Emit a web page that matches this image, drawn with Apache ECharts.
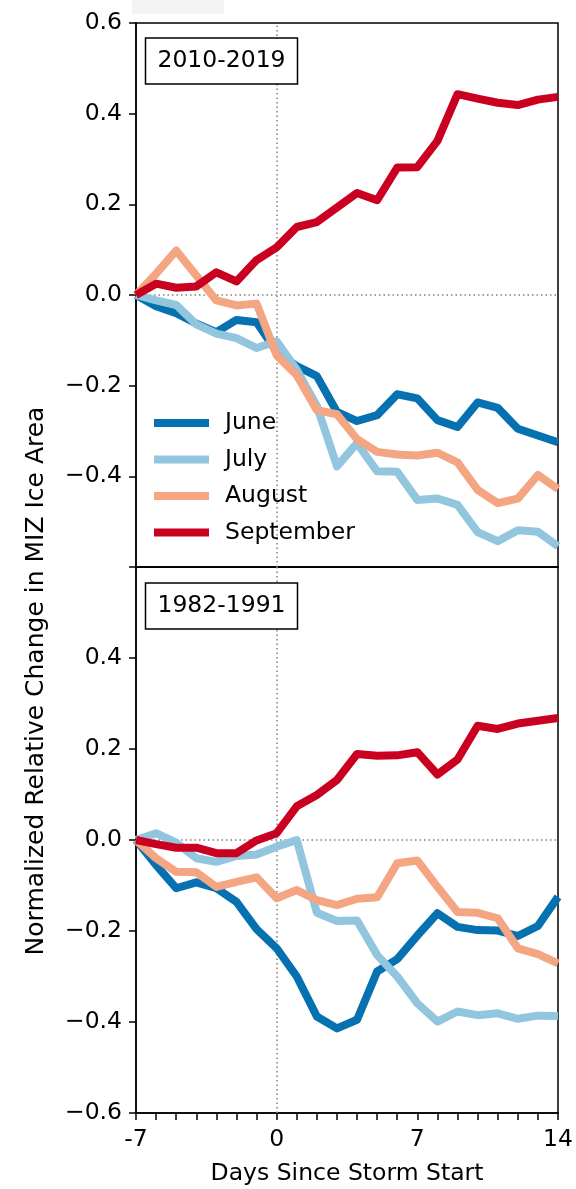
<!DOCTYPE html>
<html>
<head>
<meta charset="utf-8">
<script src="https://cdn.jsdelivr.net/npm/echarts@6/dist/echarts.min.js"></script>
<style>
  html, body { margin: 0; padding: 0; background: #fff; }
  #chart { width: 576px; height: 1189px; }
</style>
</head>
<body>
<div id="chart"></div>
<script>
// Days relative to storm onset
const days = [-7, -6, -5, -4, -3, -2, -1, 0, 1, 2, 3, 4, 5, 6, 7, 8, 9, 10, 11, 12, 13, 14];
const months = ['June', 'July', 'August', 'September'];
const periods = ['2010-2019', '1982-1991'];

// 2010-2019 composites
const june2010 = [0, -0.025, -0.040, -0.063, -0.082, -0.055, -0.060, -0.125, -0.157, -0.179, -0.258, -0.278, -0.265, -0.219, -0.228, -0.276, -0.291, -0.237, -0.249, -0.295, -0.310, -0.325];
const july2010 = [0, -0.012, -0.022, -0.065, -0.085, -0.095, -0.117, -0.102, -0.165, -0.245, -0.378, -0.327, -0.389, -0.390, -0.452, -0.449, -0.463, -0.523, -0.543, -0.519, -0.522, -0.554];
const aug2010 = [0, 0.047, 0.098, 0.043, -0.012, -0.023, -0.019, -0.133, -0.177, -0.254, -0.263, -0.318, -0.346, -0.352, -0.354, -0.348, -0.369, -0.430, -0.459, -0.449, -0.397, -0.428];
const sep2010 = [0, 0.025, 0.016, 0.019, 0.050, 0.030, 0.077, 0.105, 0.150, 0.161, 0.193, 0.225, 0.209, 0.281, 0.282, 0.340, 0.443, 0.433, 0.424, 0.419, 0.431, 0.437];

// 1982-1991 composites
const june1982 = [0, -0.055, -0.106, -0.093, -0.106, -0.136, -0.196, -0.238, -0.300, -0.388, -0.414, -0.395, -0.289, -0.262, -0.210, -0.161, -0.191, -0.198, -0.199, -0.211, -0.189, -0.125];
const july1982 = [0, 0.015, -0.006, -0.040, -0.048, -0.035, -0.032, -0.015, 0.000, -0.160, -0.178, -0.177, -0.253, -0.300, -0.359, -0.399, -0.377, -0.385, -0.381, -0.393, -0.386, -0.387];
const aug1982 = [0, -0.040, -0.070, -0.071, -0.103, -0.092, -0.082, -0.128, -0.110, -0.132, -0.143, -0.129, -0.126, -0.051, -0.045, -0.103, -0.158, -0.160, -0.172, -0.238, -0.251, -0.271];
const sep1982 = [0, -0.009, -0.017, -0.017, -0.029, -0.029, -0.001, 0.015, 0.074, 0.099, 0.132, 0.189, 0.185, 0.186, 0.193, 0.144, 0.177, 0.251, 0.244, 0.256, 0.262, 0.268];

const xTickLabels = [-7, 0, 7, 14];
const colors = ['#0571b0', '#92c5de', '#f4a582', '#ca0020'];

const FONT = 'DejaVu Sans';
const FS = 23.5;

const panels = [
  [june2010, july2010, aug2010, sep2010],
  [june1982, july1982, aug1982, sep1982]
];

function fmtY(v) {
  const r = Math.round(v * 10) / 10;
  return (r < 0 ? '\u2212' : '') + Math.abs(r).toFixed(1);
}

function yAxisFor(idx, hiddenValue) {
  return {
    type: 'value', gridIndex: idx, min: -0.6, max: 0.6, interval: 0.2,
    axisLine: { show: true, onZero: false, lineStyle: { color: '#000', width: 1.5 } },
    axisTick: { show: true, length: 7, lineStyle: { color: '#000', width: 1.5 } },
    splitLine: { show: false },
    axisLabel: {
      color: '#000', fontFamily: FONT, fontSize: FS, margin: 14,
      formatter: v => (Math.abs(v - hiddenValue) < 1e-6 ? '' : fmtY(v))
    }
  };
}

const series = [];
panels.forEach((set, p) => {
  set.forEach((vals, m) => {
    const s = {
      name: months[m], type: 'line', xAxisIndex: p, yAxisIndex: p,
      data: days.map((d, i) => [d, vals[i]]),
      symbol: 'none', silent: true,
      lineStyle: { color: colors[m], width: 8, join: 'round', cap: 'butt' },
      itemStyle: { color: colors[m] },
      z: 3 + m
    };
    if (m === 0) {
      s.markLine = {
        silent: true, symbol: ['none', 'none'], label: { show: false },
        lineStyle: { color: '#808080', type: [1.5, 3], width: 1.5 },
        data: [{ xAxis: 0 }, { yAxis: 0 }],
        z: 1
      };
    }
    series.push(s);
  });
});

function periodBox(y, text) {
  return {
    type: 'group', children: [
      { type: 'rect', shape: { x: 145.5, y: y, width: 152, height: 46 },
        style: { fill: '#fff', stroke: '#000', lineWidth: 1.5 }, z: 20 },
      { type: 'text', x: 221.5, y: y + 23,
        style: { text: text, fontFamily: FONT, fontSize: FS, fill: '#000', align: 'center', verticalAlign: 'middle' }, z: 21 }
    ]
  };
}

const chart = echarts.init(document.getElementById('chart'), null, { renderer: 'canvas' });
chart.setOption({
  animation: false,
  backgroundColor: '#fff',
  grid: [
    { left: 136, right: 18, top: 23, height: 544, show: true, borderColor: '#000', borderWidth: 1.5, backgroundColor: 'transparent' },
    { left: 136, right: 18, top: 567, height: 546, show: true, borderColor: '#000', borderWidth: 1.5, backgroundColor: 'transparent' }
  ],
  xAxis: [
    { type: 'value', gridIndex: 0, min: -7, max: 14, interval: 1,
      axisLine: { show: true, onZero: false, lineStyle: { color: '#000', width: 1.5 } },
      axisTick: { show: false }, axisLabel: { show: false }, splitLine: { show: false } },
    { type: 'value', gridIndex: 1, min: -7, max: 14, interval: 1,
      name: 'Days Since Storm Start', nameLocation: 'middle', nameGap: 49,
      nameTextStyle: { color: '#000', fontFamily: FONT, fontSize: FS },
      axisLine: { show: true, onZero: false, lineStyle: { color: '#000', width: 1.5 } },
      axisTick: { show: true, length: 7, lineStyle: { color: '#000', width: 1.5 } },
      splitLine: { show: false },
      axisLabel: {
        color: '#000', fontFamily: FONT, fontSize: FS, margin: 15,
        formatter: v => (xTickLabels.indexOf(v) >= 0 ? (v < 0 ? '-' + Math.abs(v) : String(v)) : '')
      } }
  ],
  yAxis: [yAxisFor(0, -0.6), yAxisFor(1, 0.6)],
  legend: {
    data: months, orient: 'vertical', left: 154, top: 411, padding: 0,
    itemWidth: 55, itemHeight: 8, itemGap: 12.5, icon: 'rect',
    selectedMode: false,
    textStyle: { color: '#000', fontFamily: FONT, fontSize: FS, padding: [0, 0, 0, 11] }
  },
  graphic: [
    { type: 'rect', shape: { x: 132, y: 0, width: 92, height: 14 }, style: { fill: '#f3f3f3' }, silent: true },
    periodBox(38, periods[0]),
    periodBox(583, periods[1]),
    { type: 'text', x: 36, y: 681, rotation: Math.PI / 2,
      style: { text: 'Normalized Relative Change in MIZ Ice Area', fontFamily: FONT, fontSize: 25, fill: '#000', align: 'center', verticalAlign: 'middle' } }
  ],
  series: series
});
</script>
</body>
</html>
